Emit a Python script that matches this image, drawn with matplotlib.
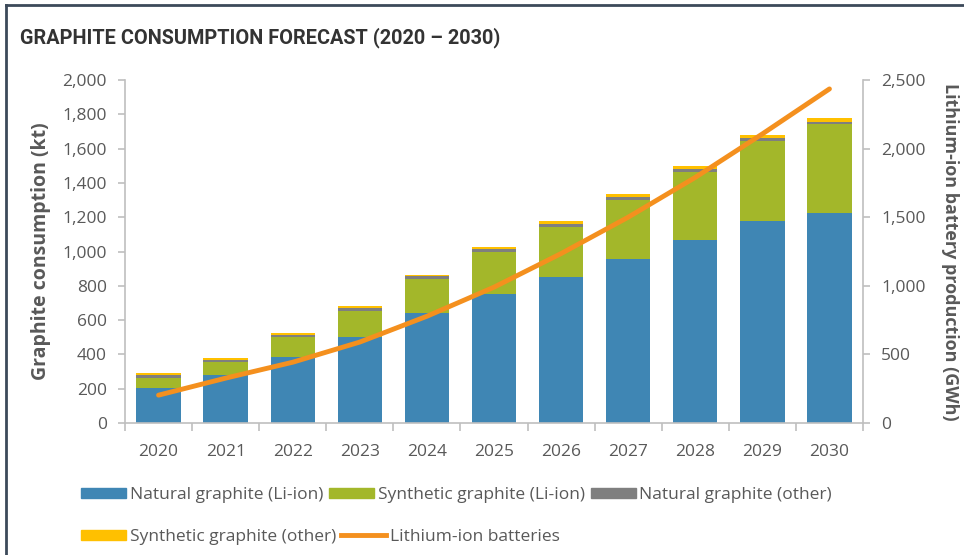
import numpy as np
import matplotlib.pyplot as plt
from matplotlib.lines import Line2D
from matplotlib.patches import Patch

# values
years = ['2020', '2021', '2022', '2023', '2024', '2025', '2026', '2027', '2028', '2029', '2030']
natural_liion = [205, 280, 385, 500, 640, 750, 850, 957, 1065, 1178, 1225]
synthetic_liion = [60, 75, 115, 155, 200, 245, 290, 345, 400, 467, 518]
natural_other = [15, 15, 15, 18, 15, 20, 20, 18, 18, 17, 15]
synthetic_other = [10, 10, 12, 12, 10, 12, 15, 15, 18, 17, 20]
battery_gwh = [203, 327, 443, 590, 778, 990, 1235, 1500, 1790, 2107, 2435]

c_blue = '#3f86b4'
c_green = '#a3b72a'
c_gray = '#7f7f7f'
c_yellow = '#ffc000'
c_orange = '#f4901e'
txt = '#595959'
spine = '#bfbfbf'
fs = 12.5

plt.rcParams['font.family'] = ['Open Sans', 'DejaVu Sans']

fig = plt.figure(figsize=(9.64, 5.55), dpi=100)
ax = fig.add_axes([125/964, 1 - 423/555, (863-125)/964, (423-80)/555])
ax2 = ax.twinx()

x = np.arange(len(years))
w = 0.66
b1 = np.array(natural_liion)
b2 = b1 + np.array(synthetic_liion)
b3 = b2 + np.array(natural_other)
ax.bar(x, natural_liion, w, color=c_blue, zorder=2)
ax.bar(x, synthetic_liion, w, bottom=b1, color=c_green, zorder=2)
ax.bar(x, natural_other, w, bottom=b2, color=c_gray, zorder=2)
ax.bar(x, synthetic_other, w, bottom=b3, color=c_yellow, zorder=2)

ax2.plot(x, battery_gwh, color=c_orange, lw=3.5, solid_capstyle='round', solid_joinstyle='round')

ax.set_xlim(-0.5, 10.5)
ax.set_ylim(0, 2000)
ax2.set_ylim(0, 2500)
ax.set_yticks(np.arange(0, 2001, 200))
ax.set_yticklabels([f'{v:,}' for v in range(0, 2001, 200)])
ax2.set_yticks(np.arange(0, 2501, 500))
ax2.set_yticklabels([f'{v:,}' for v in range(0, 2501, 500)])
ax.set_xticks(x)
ax.set_xticklabels(years)
ax.set_xticks(np.arange(-0.5, 11, 1), minor=True)
ax.tick_params(axis='x', which='major', length=0, pad=15, labelsize=fs, labelcolor=txt)
ax.tick_params(axis='x', which='minor', length=6, color=spine, width=1.2)
ax.tick_params(axis='y', length=5, color=spine, width=1.2, labelsize=fs, labelcolor=txt, pad=8)
ax2.tick_params(axis='y', length=5, color=spine, width=1.2, labelsize=fs, labelcolor=txt, pad=8)

for a in (ax, ax2):
    for s in a.spines.values():
        s.set_visible(False)
ax.spines['left'].set_visible(True)
ax.spines['bottom'].set_visible(True)
ax2.spines['right'].set_visible(True)
for s in (ax.spines['left'], ax.spines['bottom'], ax2.spines['right']):
    s.set_color(spine)
    s.set_linewidth(1.2)

ax.set_ylabel('Graphite consumption (kt)', fontsize=14, fontweight='bold', color=txt, labelpad=8)
ax2.set_ylabel('Lithium-ion battery production (GWh)', fontsize=13, fontweight='bold',
               color=txt, rotation=270, labelpad=24)

fig.text(20/964, 1 - 38/555, 'GRAPHITE CONSUMPTION FORECAST (2020 – 2030)', fontsize=14.3,
         fontweight='bold', family='Roboto', color='#333333',
         va='center', ha='left')

# frame lines at top and left
fig.add_artist(Line2D([6/964, 6/964], [0, 1 - 5/555], color='#3c4a5a', lw=2, transform=fig.transFigure))
fig.add_artist(Line2D([6/964, 1], [1 - 5/555, 1 - 5/555], color='#3c4a5a', lw=2, transform=fig.transFigure))

h1 = [Patch(color=c_blue), Patch(color=c_green), Patch(color=c_gray)]
l1 = ['Natural graphite (Li-ion)', 'Synthetic graphite (Li-ion)', 'Natural graphite (other)']
h2 = [Patch(color=c_yellow), Line2D([], [], color=c_orange, lw=3.5)]
l2 = ['Synthetic graphite (other)', 'Lithium-ion batteries']
leg_kw = dict(frameon=False, fontsize=fs, handlelength=2.6, handleheight=0.55,
              handletextpad=0.2, columnspacing=0.35, labelcolor=txt, borderaxespad=0)
fig.legend(h1, l1, ncol=3, loc='center left', bbox_to_anchor=(74/964, 1 - 495/555), **leg_kw)
fig.legend(h2, l2, ncol=2, loc='center left', bbox_to_anchor=(74/964, 1 - 537/555),
           **dict(leg_kw, columnspacing=0.3))

fig.savefig('out.png', dpi=100, facecolor='white')
